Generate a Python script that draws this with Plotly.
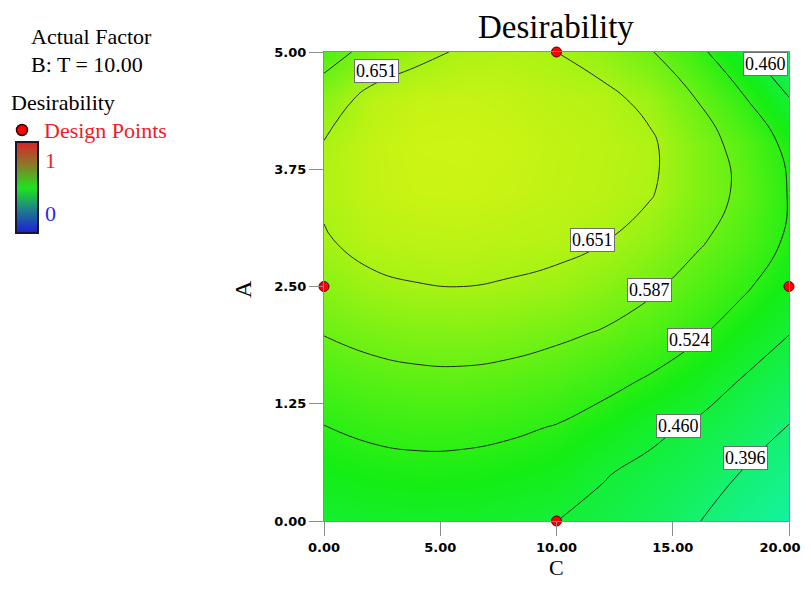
import numpy as np
import plotly.graph_objects as go

# ---------------- data ----------------
C_values = [0, 2, 4, 6, 8, 10, 12, 14, 16, 18, 20]
A_values = [0, 0.5, 1.0, 1.5, 2.0, 2.5, 3.0, 3.5, 4.0, 4.5, 5.0]

# desirability, one list per C value (ordered along A_values)
D_C0 = [0.468, 0.495, 0.522, 0.556, 0.589, 0.620, 0.647, 0.659, 0.655, 0.620, 0.560]
D_C2 = [0.475, 0.503, 0.534, 0.568, 0.603, 0.641, 0.667, 0.678, 0.678, 0.668, 0.606]
D_C4 = [0.477, 0.507, 0.540, 0.575, 0.611, 0.649, 0.672, 0.685, 0.688, 0.680, 0.638]
D_C6 = [0.475, 0.506, 0.539, 0.576, 0.613, 0.651, 0.673, 0.686, 0.689, 0.682, 0.657]
D_C8 = [0.469, 0.500, 0.532, 0.570, 0.608, 0.647, 0.669, 0.682, 0.685, 0.679, 0.661]
D_C10 = [0.460, 0.490, 0.521, 0.559, 0.597, 0.639, 0.665, 0.675, 0.677, 0.669, 0.651]
D_C12 = [0.446, 0.463, 0.500, 0.541, 0.583, 0.620, 0.654, 0.668, 0.670, 0.664, 0.629]
D_C14 = [0.426, 0.446, 0.473, 0.518, 0.561, 0.597, 0.629, 0.656, 0.660, 0.638, 0.592]
D_C16 = [0.399, 0.426, 0.452, 0.491, 0.532, 0.566, 0.596, 0.613, 0.613, 0.587, 0.541]
D_C18 = [0.370, 0.393, 0.425, 0.457, 0.495, 0.532, 0.562, 0.578, 0.570, 0.530, 0.472]
D_C20 = [0.345, 0.370, 0.394, 0.427, 0.461, 0.492, 0.516, 0.521, 0.510, 0.462, 0.400]

contour_levels = [0.396, 0.460, 0.524, 0.587, 0.651]
label_texts = ["0.651", "0.460", "0.651", "0.587", "0.524", "0.460", "0.396"]

design_C = [10, 0, 20, 10]
design_A = [5, 2.5, 2.5, 0]

x_ticks = [0, 5, 10, 15, 20]
x_tick_labels = ["0.00", "5.00", "10.00", "15.00", "20.00"]
y_ticks = [0, 1.25, 2.5, 3.75, 5]

legend_bar_values = [0, 1]

# ---------------- figure ----------------
# the page body adds an 8 px margin, so the figure is drawn smaller
# (no scrollbars) and every screen position below is shifted by that offset
OFF = 8
W, H = 811 - OFF, 589 - 2 * OFF
X0, X1, Y0, Y1 = 324, 789, 52, 521   # plot area, screen pixels


def px(x):
    return (x - OFF) / W


def py(y):
    return 1 - (y - OFF) / H


Z = np.array([D_C0, D_C2, D_C4, D_C6, D_C8, D_C10, D_C12,
              D_C14, D_C16, D_C18, D_C20]).T

plot_scale = [[0.0, "rgb(20,20,245)"], [0.25, "rgb(20,245,245)"],
              [0.5, "rgb(20,238,20)"], [0.73, "rgb(245,245,20)"],
              [1.0, "rgb(245,20,20)"]]
legend_scale = [[0.0, "rgb(30,30,215)"], [0.25, "rgb(30,125,140)"],
                [0.5, "rgb(30,228,30)"], [0.75, "rgb(135,125,40)"],
                [1.0, "rgb(212,40,40)"]]

step = (contour_levels[-1] - contour_levels[0]) / (len(contour_levels) - 1)

fig = go.Figure()
fig.add_trace(go.Contour(
    x=C_values, y=A_values, z=Z,
    zmin=0, zmax=1, colorscale=plot_scale, showscale=False,
    contours=dict(coloring="heatmap", start=contour_levels[0],
                  end=contour_levels[-1] + 1e-4, size=step, showlabels=False),
    line=dict(color="#2a2a2a", width=1, smoothing=1.3),
    hoverinfo="skip",
))

fig.add_trace(go.Scatter(
    x=design_C, y=design_A, mode="markers", cliponaxis=False,
    marker=dict(color="#ff0000", size=10, line=dict(color="#400000", width=1)),
    showlegend=False, hoverinfo="skip",
))

# legend colour bar (Design-Expert style) on its own small axes
fig.add_trace(go.Heatmap(
    x=[0, 1], y=legend_bar_values,
    z=[[legend_bar_values[0]] * 2, [legend_bar_values[1]] * 2],
    zmin=0, zmax=1, colorscale=legend_scale, zsmooth="best",
    showscale=False, hoverinfo="skip", xaxis="x2", yaxis="y2",
))

serif = "Liberation Serif, Times New Roman, serif"
axis_common = dict(showgrid=False, zeroline=False, showline=True, mirror=True,
                   linecolor="#8c8c8c", linewidth=1, ticks="outside", ticklen=14,
                   tickcolor="#8c8c8c", tickwidth=1,
                   automargin=False, ticklabeloverflow="allow",
                   tickfont=dict(family="DejaVu Sans", size=13, color="black",
                                 weight="bold"))
bar_axis = dict(showgrid=False, zeroline=False, showline=True, mirror=True,
                linecolor="#16162c", linewidth=2, ticks="", showticklabels=False,
                automargin=False, fixedrange=True)

# keep the last x label inside the page edge
x_tick_text = x_tick_labels[:-1] + [x_tick_labels[-1] + "&nbsp;" * 4]

fig.update_layout(
    width=W, height=H, margin=dict(l=0, r=0, t=0, b=0),
    paper_bgcolor="white", plot_bgcolor="white", showlegend=False,
    xaxis=dict(range=[0, 20], tickvals=x_ticks, ticktext=x_tick_text,
               domain=[px(X0), px(X1)], anchor="y", **axis_common),
    yaxis=dict(range=[0, 5], tickvals=y_ticks, tickformat=".2f",
               domain=[py(Y1), py(Y0)], anchor="x", **axis_common),
    xaxis2=dict(range=[0, 1], domain=[px(17), px(37)], anchor="y2", **bar_axis),
    yaxis2=dict(range=[0, 1], domain=[py(232), py(143)], anchor="x2", **bar_axis),
)

annotations = []
# contour labels placed on their lines
label_pos = [(2.24, 4.80), (19.01, 4.87), (11.53, 3.00), (13.98, 2.46),
             (15.70, 1.93), (15.23, 1.01), (18.11, 0.67)]
for (cx, ay), t in zip(label_pos, label_texts):
    annotations.append(dict(x=cx, y=ay, xref="x", yref="y", text=t,
                            showarrow=False, bgcolor="white",
                            bordercolor="#6e6e6e", borderwidth=1, borderpad=1,
                            font=dict(family=serif, size=18, color="black")))


def txt(x, y, s, size, color="black", xanchor="left", angle=0):
    annotations.append(dict(x=px(x), y=py(y), xref="paper", yref="paper",
                            text=s, showarrow=False, xanchor=xanchor,
                            yanchor="middle", textangle=angle,
                            font=dict(family=serif, size=size, color=color)))


txt(556, 27, "Desirability", 33, xanchor="center")
txt(29, 37, "Actual Factor", 22)
txt(29, 65, "B: T = 10.00", 22)
txt(9, 103, "Desirability", 22)
txt(42, 131, "Design Points", 22, color="#ee1c25")
txt(43, 160, "1", 22, color="#ee1c25")
txt(43, 213, "0", 22, color="#2a2ae6")
txt(243, 289, "A", 24, xanchor="center", angle=-90)
txt(556, 567, "C", 22, xanchor="center")

fig.update_layout(annotations=annotations)

# design point symbol in the legend
r = 5.5
fig.add_shape(type="circle", xref="paper", yref="paper",
              x0=px(22 - r), x1=px(22 + r), y0=py(130 + r), y1=py(130 - r),
              fillcolor="#ff0000", line=dict(color="#300000", width=1.5))

fig.write_html("out.html")
